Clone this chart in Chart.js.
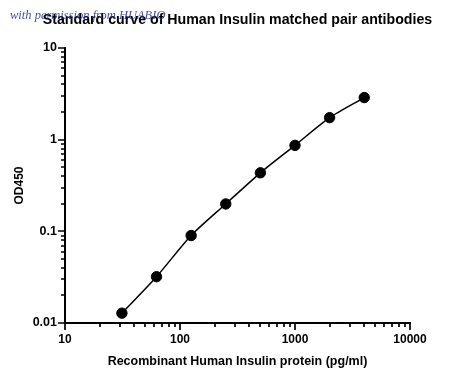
<!DOCTYPE html>
<html><head><meta charset="utf-8">
<script src="https://cdn.jsdelivr.net/npm/chart.js@4/dist/chart.umd.min.js"></script>
<style>html,body{margin:0;padding:0;background:#fff}</style>
</head><body>
<canvas id="c" width="450" height="381"></canvas>
<script>
// ---- data ----
const concentrations = [31.25, 62.5, 125, 250, 500, 1000, 2000, 4000];
const od450 = [0.0128, 0.032, 0.090, 0.199, 0.435, 0.867, 1.74, 2.88];
const xTickValues = [10, 100, 1000, 10000];
const xTickLabels = ['10', '100', '1000', '10000'];
const yTickValues = [0.01, 0.1, 1, 10];
const yTickLabels = ['0.01', '0.1', '1', '10'];
const titleText = 'Standard curve of Human Insulin matched pair antibodies';
const xTitle = 'Recombinant Human Insulin protein (pg/ml)';
const yTitle = 'OD450';
const watermark = 'with permission from HUABIO';

const FONT = '"Liberation Sans", Arial, sans-serif';

const tickPlugin = {
  id: 'logTicks',
  afterDraw(chart) {
    const ctx = chart.ctx;
    const xs = chart.scales.x, ys = chart.scales.y;
    const area = chart.chartArea;
    ctx.save();
    // title centred over the plot area
    ctx.font = 'bold 14.2px ' + FONT;
    ctx.fillStyle = '#000';
    ctx.textAlign = 'center';
    ctx.textBaseline = 'middle';
    ctx.fillText(titleText, (area.left + area.right) / 2, 20);
    // watermark overlay
    ctx.font = 'italic 12.5px "Liberation Serif", "DejaVu Serif", serif';
    ctx.fillStyle = 'rgba(34,49,140,0.85)';
    ctx.textAlign = 'left';
    ctx.textBaseline = 'alphabetic';
    ctx.fillText(watermark, 10, 19);
    // log ticks
    ctx.strokeStyle = '#000';
    ctx.lineWidth = 1.7;
    ctx.beginPath();
    for (let i = 0; i < xTickValues.length; i++) {
      const v = xTickValues[i];
      const px = Math.round(xs.getPixelForValue(v));
      ctx.moveTo(px, area.bottom); ctx.lineTo(px, area.bottom + 7);
      if (i < xTickValues.length - 1) {
        for (let m = 2; m <= 9; m++) {
          const p = Math.round(xs.getPixelForValue(v * m));
          ctx.moveTo(p, area.bottom); ctx.lineTo(p, area.bottom + 4);
        }
      }
    }
    for (let i = 0; i < yTickValues.length; i++) {
      const v = yTickValues[i];
      const py = Math.round(ys.getPixelForValue(v));
      ctx.moveTo(area.left, py); ctx.lineTo(area.left - 7, py);
      if (i < yTickValues.length - 1) {
        for (let m = 2; m <= 9; m++) {
          const p = Math.round(ys.getPixelForValue(v * m));
          ctx.moveTo(area.left, p); ctx.lineTo(area.left - 4, p);
        }
      }
    }
    ctx.stroke();
    ctx.restore();
  }
};

new Chart(document.getElementById('c'), {
  type: 'scatter',
  data: {
    datasets: [{
      data: concentrations.map((x, i) => ({ x: x, y: od450[i] })),
      showLine: true,
      borderColor: '#000',
      borderWidth: 1.5,
      backgroundColor: '#000',
      pointBackgroundColor: '#000',
      pointBorderColor: '#000',
      pointBorderWidth: 1,
      pointRadius: 5.2,
      tension: 0.25
    }]
  },
  options: {
    responsive: false,
    animation: false,
    devicePixelRatio: 1,
    layout: { padding: { left: 0, right: 40, top: 48, bottom: 0 } },
    plugins: {
      legend: { display: false },
      tooltip: { enabled: false },
      title: { display: false }
    },
    scales: {
      x: {
        type: 'logarithmic',
        min: 10, max: 10000,
        afterBuildTicks: s => { s.ticks = xTickValues.map(v => ({ value: v })); },
        afterFit: s => { s.height = 58; },
        ticks: {
          callback: (v) => { const i = xTickValues.indexOf(v); return i >= 0 ? xTickLabels[i] : ''; },
          color: '#000', padding: 9, maxRotation: 0, autoSkip: false,
          font: { family: FONT, size: 12, weight: 'bold' }
        },
        grid: { display: false, drawTicks: false, drawOnChartArea: false },
        border: { display: true, color: '#000', width: 2 },
        title: {
          display: true, text: xTitle, color: '#000',
          font: { family: FONT, size: 12.5, weight: 'bold' },
          padding: { top: 0, bottom: 11.5 }
        }
      },
      y: {
        type: 'logarithmic',
        min: 0.01, max: 10,
        afterBuildTicks: s => { s.ticks = yTickValues.map(v => ({ value: v })); },
        afterFit: s => { s.width = 65; },
        ticks: {
          callback: (v) => { const i = yTickValues.indexOf(v); return i >= 0 ? yTickLabels[i] : ''; },
          color: '#000', padding: 8, autoSkip: false,
          font: { family: FONT, size: 12.5, weight: 'bold' }
        },
        grid: { display: false, drawTicks: false, drawOnChartArea: false },
        border: { display: true, color: '#000', width: 2 },
        title: {
          display: true, text: yTitle, color: '#000',
          font: { family: FONT, size: 12, weight: 'bold' },
          padding: { top: 12.5, bottom: 0 }
        }
      }
    }
  },
  plugins: [tickPlugin]
});
</script>
</body></html>
